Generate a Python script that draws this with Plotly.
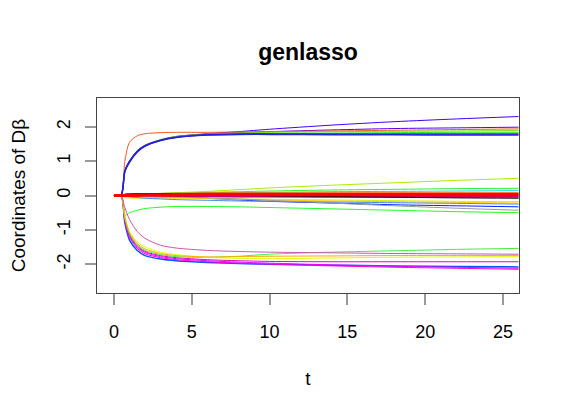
"""
genlasso solution path, redrawn with plotly
"""

import plotly.graph_objects as go

# path knots (t values) shared by every coordinate
t_knots = [0, 0.45, 0.7, 1, 1.5, 2, 3, 4, 6, 8, 10, 14, 18, 22, 26]

# coordinates of D*beta along the path, one list per coordinate
# upper group (~ +1.8 .. +2.3)
top_purple_a = [0, 0, 0.72, 1.00, 1.30, 1.46, 1.62, 1.72, 1.80, 1.86, 1.93, 2.05, 2.15, 2.23, 2.30]
top_purple_b = [0, 0, 0.70, 0.98, 1.28, 1.45, 1.61, 1.71, 1.79, 1.83, 1.86, 1.91, 1.95, 1.97, 1.99]
top_orange = [0, 0, 1.00, 1.55, 1.74, 1.80, 1.83, 1.84, 1.84, 1.85, 1.86, 1.88, 1.90, 1.92, 1.94]
top_green_c = [0, 0, 0.74, 1.02, 1.31, 1.47, 1.63, 1.72, 1.79, 1.82, 1.84, 1.86, 1.87, 1.88, 1.89]
top_green_d = [0, 0, 0.73, 1.01, 1.30, 1.46, 1.62, 1.71, 1.78, 1.80, 1.81, 1.82, 1.83, 1.84, 1.84]
top_purple_e = [0, 0, 0.71, 0.99, 1.29, 1.45, 1.61, 1.70, 1.77, 1.79, 1.79, 1.79, 1.79, 1.79, 1.79]
top_blue_f = [0, 0, 0.70, 0.97, 1.27, 1.44, 1.60, 1.69, 1.76, 1.78, 1.78, 1.77, 1.77, 1.76, 1.76]

# middle group (near zero)
mid_yellowgreen = [0, 0, 0.02, 0.03, 0.04, 0.05, 0.06, 0.08, 0.12, 0.17, 0.22, 0.30, 0.37, 0.44, 0.50]
mid_green = [0, 0, 0.03, 0.04, 0.05, 0.05, 0.06, 0.07, 0.09, 0.11, 0.13, 0.16, 0.18, 0.20, 0.21]
mid_cyan = [0, 0, 0.01, 0.02, 0.03, 0.04, 0.05, 0.06, 0.07, 0.08, 0.09, 0.11, 0.12, 0.13, 0.14]
mid_orange = [0, 0, 0.02, 0.03, 0.04, 0.05, 0.06, 0.07, 0.08, 0.08, 0.08, 0.08, 0.08, 0.08, 0.08]
mid_red1 = [0, 0, 0.01, 0.01, 0.02, 0.02, 0.03, 0.04, 0.05, 0.05, 0.05, 0.05, 0.05, 0.05, 0.05]
mid_crimson = [0, 0, 0, 0, -0.01, -0.01, -0.01, -0.01, -0.02, -0.02, -0.02, -0.02, -0.02, -0.02, -0.02]
mid_purple = [0, 0, -0.01, -0.01, -0.01, -0.02, -0.02, -0.03, -0.03, -0.04, -0.04, -0.05, -0.05, -0.05, -0.05]
mid_black = [0, 0, 0.03, 0.04, 0.05, 0.05, 0.05, 0.04, 0.03, 0.01, -0.01, -0.03, -0.05, -0.07, -0.08]
mid_blue = [0, 0, 0.04, 0.05, 0.05, 0.04, 0.02, -0.02, -0.08, -0.13, -0.17, -0.22, -0.27, -0.30, -0.33]
mid_yellow = [0, 0, -0.06, -0.07, -0.08, -0.08, -0.08, -0.08, -0.09, -0.10, -0.11, -0.13, -0.15, -0.17, -0.18]
mid_gold = [0, 0, -0.02, -0.03, -0.04, -0.05, -0.06, -0.07, -0.09, -0.11, -0.13, -0.16, -0.18, -0.20, -0.22]
mid_skyblue = [0, 0, -0.02, -0.04, -0.06, -0.08, -0.10, -0.12, -0.14, -0.16, -0.17, -0.19, -0.21, -0.23, -0.25]
mid_grey = [0, 0, -0.01, -0.02, -0.03, -0.03, -0.04, -0.05, -0.07, -0.10, -0.14, -0.22, -0.30, -0.37, -0.43]
mid_green_dip = [0, 0, -0.58, -0.50, -0.43, -0.38, -0.34, -0.32, -0.32, -0.33, -0.35, -0.39, -0.43, -0.47, -0.50]
mid_red2 = [0, 0, 0, 0, 0, 0.01, 0.01, 0.01, 0.02, 0.02, 0.02, 0.02, 0.02, 0.02, 0.02]

# lower group (~ -1.5 .. -2.15)
low_blue = [0, 0, -0.80, -1.30, -1.60, -1.75, -1.85, -1.90, -1.95, -1.98, -2.00, -2.03, -2.05, -2.07, -2.08]
low_magenta1 = [0, 0, -0.75, -1.22, -1.54, -1.70, -1.81, -1.87, -1.93, -1.97, -2.00, -2.05, -2.09, -2.12, -2.15]
low_magenta2 = [0, 0, -0.72, -1.18, -1.50, -1.66, -1.78, -1.84, -1.90, -1.94, -1.97, -2.02, -2.06, -2.09, -2.12]
low_magenta3 = [0, 0, -0.70, -1.15, -1.47, -1.63, -1.75, -1.81, -1.87, -1.90, -1.92, -1.93, -1.93, -1.93, -1.93]
low_green = [0, 0, -0.68, -1.12, -1.44, -1.60, -1.72, -1.78, -1.80, -1.77, -1.71, -1.65, -1.61, -1.57, -1.54]
low_yellow = [0, 0, -0.60, -1.05, -1.35, -1.50, -1.65, -1.72, -1.80, -1.83, -1.84, -1.82, -1.80, -1.79, -1.78]
low_orange = [0, 0, -0.62, -1.08, -1.40, -1.56, -1.69, -1.75, -1.79, -1.78, -1.77, -1.76, -1.75, -1.75, -1.75]
low_pink = [0, 0, -0.35, -0.70, -1.05, -1.25, -1.45, -1.53, -1.60, -1.63, -1.65, -1.67, -1.69, -1.70, -1.71]

# axis ticks (R draws a plain hyphen for minus)
x_ticks = [0, 5, 10, 15, 20, 25]
y_ticks = [-2, -1, 0, 1, 2]
y_tick_labels = ['-2', '-1', '0', '1', '2']

paths = [
    (top_purple_a, '#4400FF', 1), (top_purple_b, '#5500EE', 1), (top_orange, '#FF5522', 1),
    (top_green_c, '#77DD00', 1), (top_green_d, '#22EE22', 1), (top_purple_e, '#5500FF', 1.5),
    (top_blue_f, '#2222DD', 1.5),
    (mid_yellowgreen, '#AAEE00', 1), (mid_green, '#33EE33', 1), (mid_cyan, '#00DDDD', 1),
    (mid_orange, '#FF8800', 1), (mid_red1, '#FF0022', 2), (mid_crimson, '#DD0044', 2),
    (mid_purple, '#9900CC', 1), (mid_black, '#111111', 1), (mid_blue, '#0022FF', 1),
    (mid_yellow, '#DDEE00', 1), (mid_gold, '#FFCC00', 1), (mid_skyblue, '#4488FF', 1),
    (mid_grey, '#999999', 1), (mid_green_dip, '#22FF22', 1),
    (low_blue, '#0055FF', 1.5), (low_magenta1, '#FF00DD', 1), (low_magenta2, '#EE00FF', 1),
    (low_magenta3, '#DD00CC', 1), (low_green, '#44EE44', 1), (low_yellow, '#DDFF00', 1),
    (low_orange, '#FFAA00', 1), (low_pink, '#CC55AA', 1),
    (mid_red2, '#FF0000', 3),
]

fig = go.Figure()
for values, color, width in paths:
    fig.add_trace(go.Scatter(
        x=t_knots, y=values, mode='lines',
        line=dict(color=color, width=width, shape='spline', smoothing=0.8),
        hoverinfo='skip', showlegend=False
    ))

font_family = 'Liberation Sans, Arial, Helvetica, sans-serif'

# the page body adds an 8px margin, so margins are shifted to compensate
fig.update_layout(
    width=570, height=416,
    margin=dict(l=89, r=59, t=90, b=131, autoexpand=False),
    paper_bgcolor='white', plot_bgcolor='white',
    font=dict(family=font_family, size=16, color='black'),
    title=dict(text='<b>genlasso</b>', x=0.5, xref='paper', xanchor='center',
               y=1 - 44 / 416, yanchor='middle', yref='container',
               font=dict(size=23)),
    showlegend=False,
)

fig.update_xaxes(
    range=[-1.09, 26.03], tickvals=x_ticks,
    showgrid=False, zeroline=False, automargin=False,
    showline=True, linecolor='#444444', linewidth=1, mirror=True,
    ticks='outside', ticklen=11, tickcolor='#999999', tickwidth=2,
    tickfont=dict(size=18), ticklabelstandoff=11,
    title=dict(text='t', standoff=31, font=dict(size=19)),
)
fig.update_yaxes(
    range=[-2.84, 2.84], tickvals=y_ticks, ticktext=y_tick_labels,
    showgrid=False, zeroline=False, automargin=False,
    showline=True, linecolor='#444444', linewidth=1, mirror=True,
    ticks='outside', ticklen=11, tickcolor='#999999', tickwidth=2,
    tickangle=-90, tickfont=dict(size=18), ticklabelstandoff=8,
    title=dict(text='Coordinates of Dβ', standoff=24),
)

fig.write_html('out.html')
